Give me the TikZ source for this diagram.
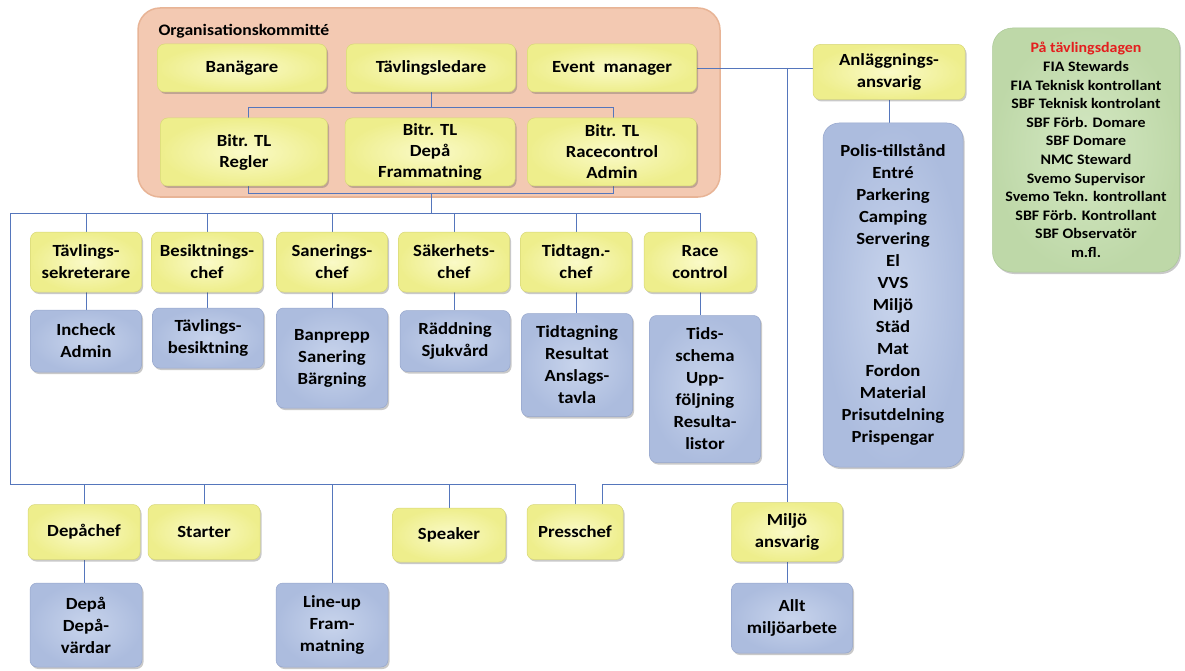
\documentclass[tikz,border=0pt]{standalone}
\usepackage{fontspec}
\setmainfont{Carlito}
\newfontfamily\boxfont{Carlito}[FakeStretch=1.1]
\usetikzlibrary{shadows}
\pgfdeclarelayer{back}
\pgfdeclarelayer{lines}
\pgfsetlayers{back,lines,main}
\definecolor{peach}{RGB}{243,201,178}
\definecolor{peachedge}{RGB}{232,180,150}
\definecolor{ylight}{RGB}{250,250,200}
\definecolor{ybase}{RGB}{238,238,140}
\definecolor{yedge}{RGB}{215,215,120}
\definecolor{blight}{RGB}{200,212,236}
\definecolor{bbase}{RGB}{172,188,222}
\definecolor{bedge}{RGB}{150,166,204}
\definecolor{glight}{RGB}{212,232,195}
\definecolor{gbase}{RGB}{190,216,168}
\definecolor{gedge}{RGB}{170,200,150}
\definecolor{linec}{RGB}{85,118,188}
\definecolor{redc}{RGB}{228,30,30}
\tikzset{
  sz/.style 2 args={minimum width=#1pt, minimum height=#2pt},
  box/.style={rounded corners=7pt, align=center, inner sep=1pt,
    font=\boxfont\bfseries\fontsize{17}{22}\selectfont,
    drop shadow={shadow xshift=1.5pt, shadow yshift=-2pt, opacity=0.3, fill=black!70}},
  ybox/.style={box, shading=radial, inner color=ylight, outer color=ybase, draw=yedge, line width=0.5pt},
  bbox/.style={box, shading=radial, inner color=blight, outer color=bbase, draw=bedge, line width=0.5pt},
  gbox/.style={box, rounded corners=20pt, shading=radial, inner color=glight, outer color=gbase, draw=gedge, line width=0.5pt,
    font=\boxfont\bfseries\fontsize{14.5}{18.6}\selectfont},
  orgbox/.style={rounded corners=22pt, fill=peach, draw=peachedge, line width=1.5pt},
  conn/.style={draw=linec, line width=0.9pt},
}
\begin{document}
\begin{tikzpicture}[x=1pt,y=-1pt]
\useasboundingbox (0,0) rectangle (1185,671);
% organisation committee
\begin{pgfonlayer}{back}
\node[orgbox, sz={582}{189}] (org) at (429,102.5) {};
\end{pgfonlayer}
\node[anchor=west, font=\boxfont\bfseries\fontsize{16}{18}\selectfont] (orgl) at (155,31) {Organisationskommitté};
\node[ybox, sz={169}{48}] (ban) at (242,68) {Banägare};
\node[ybox, sz={169}{48}] (tl) at (431,68) {Tävlingsledare};
\node[ybox, sz={169}{48}] (ev) at (612,68) {Event\ \ manager};
\node[ybox, sz={167}{68}, font=\boxfont\bfseries\fontsize{17}{21}\selectfont] (br) at (244,152) {Bitr. TL\\Regler};
\node[ybox, sz={170}{68}, font=\boxfont\bfseries\fontsize{17}{21}\selectfont] (bd) at (430,152) {Bitr. TL\\Depå\\Frammatning};
\node[ybox, sz={169}{68}, font=\boxfont\bfseries\fontsize{17}{21}\selectfont] (brc) at (612,152) {Bitr. TL\\Racecontrol\\Admin};
% second row
\node[ybox, sz={111}{60}] (sek) at (86,262) {Tävlings-\\sekreterare};
\node[ybox, sz={111}{60}] (bes) at (207,262) {Besiktnings-\\chef};
\node[ybox, sz={111}{60}] (san) at (332,262) {Sanerings-\\chef};
\node[ybox, sz={111}{60}] (sak) at (454,262) {Säkerhets-\\chef};
\node[ybox, sz={111}{60}] (tid) at (576,262) {Tidtagn.-\\chef};
\node[ybox, sz={112}{60}] (rc) at (700,262) {Race\\control};
% blue row
\node[bbox, sz={111}{62}] (inc) at (86,341) {Incheck\\Admin};
\node[bbox, sz={111}{60}] (tbes) at (208,338) {Tävlings-\\besiktning};
\node[bbox, sz={111}{100}] (banp) at (332,358) {Banprepp\\Sanering\\Bärgning};
\node[bbox, sz={110}{61}] (radd) at (455,341) {Räddning\\Sjukvård};
\node[bbox, sz={111}{103}] (tidt) at (577,365) {Tidtagning\\Resultat\\Anslags-\\tavla};
\node[bbox, sz={111}{147}] (tids) at (705,389) {Tids-\\schema\\Upp-\\följning\\Resulta-\\listor};
% right column
\node[ybox, sz={152}{55}] (anl) at (889,72) {Anläggnings-\\ansvarig};
\node[bbox, rounded corners=16pt, sz={140}{344}] (anlb) at (893,295) {Polis-tillstånd\\Entré\\Parkering\\Camping\\Servering\\El\\VVS\\Miljö\\Städ\\Mat\\Fordon\\Material\\Prisutdelning\\Prispengar};
\node[gbox, sz={187}{244}] (grn) at (1086,150) {\textcolor{redc}{På tävlingsdagen}\\FIA Stewards\\FIA Teknisk kontrollant\\SBF Teknisk kontrolant\\SBF Förb. Domare\\SBF Domare\\NMC Steward\\Svemo Supervisor\\Svemo Tekn. kontrollant\\SBF Förb. Kontrollant\\SBF Observatör\\m.fl.};
% bottom row
\node[ybox, sz={112}{55}] (dep) at (84,532) {Depåchef};
\node[ybox, sz={112}{55}] (sta) at (204,532) {Starter};
\node[ybox, sz={113}{54}] (spk) at (449,535) {Speaker};
\node[ybox, sz={96}{55}] (pre) at (575,532) {Presschef};
\node[ybox, sz={111}{59}] (mil) at (787,532) {Miljö\\ansvarig};
\node[bbox, sz={112}{84}] (depa) at (86,625) {Depå\\Depå-\\värdar};
\node[bbox, sz={112}{84}] (lin) at (332,625) {Line-up\\Fram-\\matning};
\node[bbox, sz={121}{70}] (allt) at (792,618) {Allt\\miljöarbete};
% junction coordinates
\coordinate (j1l) at (248,107);
\coordinate (j1r) at (613,107);
\coordinate (j2l) at (248,193);
\coordinate (j2r) at (613,193);
\coordinate (m0) at (10,213);
\coordinate (b0) at (10,484);
\coordinate (p2) at ([xshift=27pt]pre.north);
\begin{pgfonlayer}{lines}
\draw[conn] (tl.south) -- (tl.south |- j1l);
\draw[conn] (j1l) -- (j1r) -- (j2r) -- (j2l) -- cycle;
\draw[conn] (tl.south |- j2l) -- (tl.south |- m0);
\draw[conn] (rc.north |- m0) -- (m0) -- (b0) -- (b0 -| pre.north);
\foreach \n in {sek,bes,san,sak,tid,rc} \draw[conn] (\n.north) -- (\n.north |- m0);
\foreach \n/\m in {sek/inc,bes/tbes,san/banp,sak/radd,tid/tidt,rc/tids} \draw[conn] (\n.south) -- (\n.south |- \m.north);
\foreach \n in {dep,sta,lin,spk,pre} \draw[conn] (\n.north) -- (\n.north |- b0);
\draw[conn] (dep.south) -- (dep.south |- depa.north);
\draw[conn] (ev.east) -- (ev.east -| anl.west);
\draw[conn] (ev.east -| mil.north) -- (mil.north);
\draw[conn] (p2) |- (mil.north |- b0);
\draw[conn] (mil.south) -- (mil.south |- allt.north);
\draw[conn] (anl.south) -- (anl.south |- anlb.north);
\end{pgfonlayer}
\end{tikzpicture}
\end{document}
